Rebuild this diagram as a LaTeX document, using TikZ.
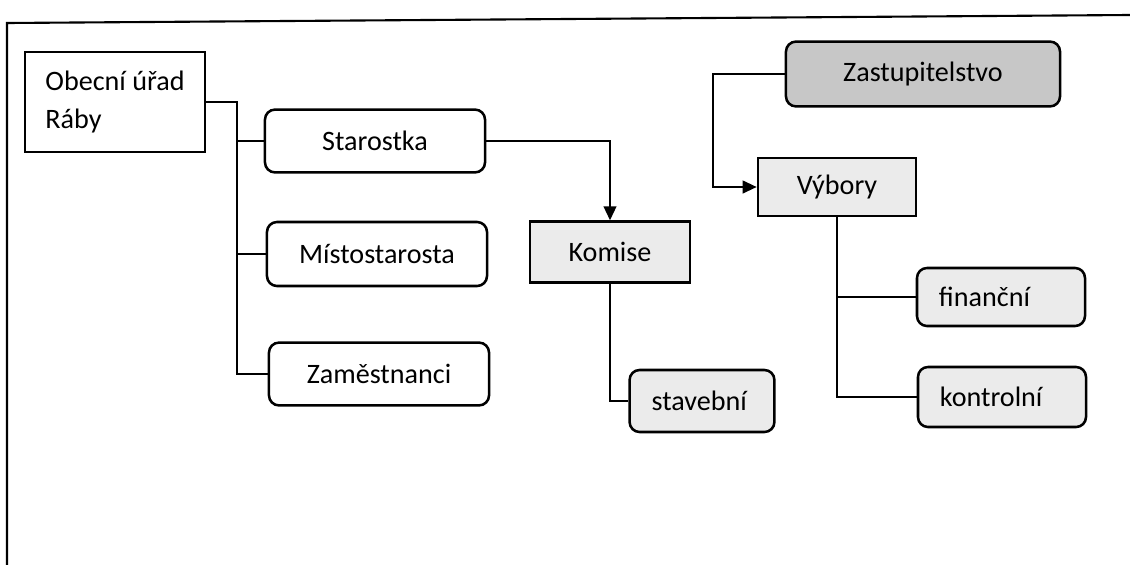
\documentclass[tikz,border=0pt]{standalone}
\usepackage{fontspec}
\setmainfont{Carlito}
\usetikzlibrary{arrows.meta}

\begin{document}
\begin{tikzpicture}[x=0.025cm, y=-0.025cm,
    every node/.style={font=\fontsize{20}{27}\selectfont},
    box/.style={draw, line width=1.8pt, inner sep=0pt},
    rbox/.style={box, rounded corners=0.25cm},
    light/.style={fill=black!8},
    dark/.style={fill=black!22},
    link/.style={line width=1.6pt},
    arr/.style={link, -{Triangle[length=10pt, width=9pt]}}]
 \useasboundingbox (0,0) rectangle (1130,565);
 % frame
 \draw[line width=1.5pt] (7,565) -- (7,23) -- (1130,15);

 % left part
 \node[box, minimum width=4.5cm, minimum height=2.5cm, inner xsep=0.45cm, align=left] (urad) at (115,102) {Obecní úřad\\Ráby};
 \node[rbox, minimum width=5.5cm, minimum height=1.57cm] (star) at (375,141) {Starostka};
 \node[rbox, minimum width=5.5cm, minimum height=1.6cm] (misto) at (377,254) {Místostarosta};
 \node[rbox, minimum width=5.5cm, minimum height=1.57cm] (zam) at (379,374) {Zaměstnanci};

 % komise
 \node[box, light, minimum width=4cm, minimum height=1.52cm] (komise) at (610,252) {Komise};
 \node[rbox, light, minimum width=3.62cm, minimum height=1.55cm, text width=2.52cm, align=left] (stav) at (702,401) {stavební};

 % right part
 \node[rbox, dark, minimum width=6.85cm, minimum height=1.62cm] (zastup) at (923,74) {Zastupitelstvo};
 \node[box, light, minimum width=3.95cm, minimum height=1.45cm] (vybory) at (837,187) {Výbory};
 \node[rbox, light, minimum width=4.2cm, minimum height=1.45cm, text width=3.1cm, align=left] (fin) at (1001,297) {finanční};
 \node[rbox, light, minimum width=4.2cm, minimum height=1.5cm, text width=3.1cm, align=left] (kontr) at (1002,397) {kontrolní};

 % connectors
 \coordinate (busU) at (237,100);
 \draw[link] (urad.east) -- (busU |- urad.east) -- (busU |- zam.west) -- (zam.west);
 \foreach \n in {star, misto}
   \draw[link] (busU |- \n.west) -- (\n.west);
 \draw[arr] (star.east) -| (komise.north);
 \draw[link] (komise.south) |- (stav.west);

 \coordinate (busZ) at (713,74);
 \draw[arr] (zastup.west) -- (busZ |- zastup.west) -- (busZ |- vybory.west) -- (vybory.west);
 \draw[link] (vybory.south) |- (kontr.west);
 \draw[link] (vybory.south |- fin.west) -- (fin.west);
\end{tikzpicture}
\end{document}
